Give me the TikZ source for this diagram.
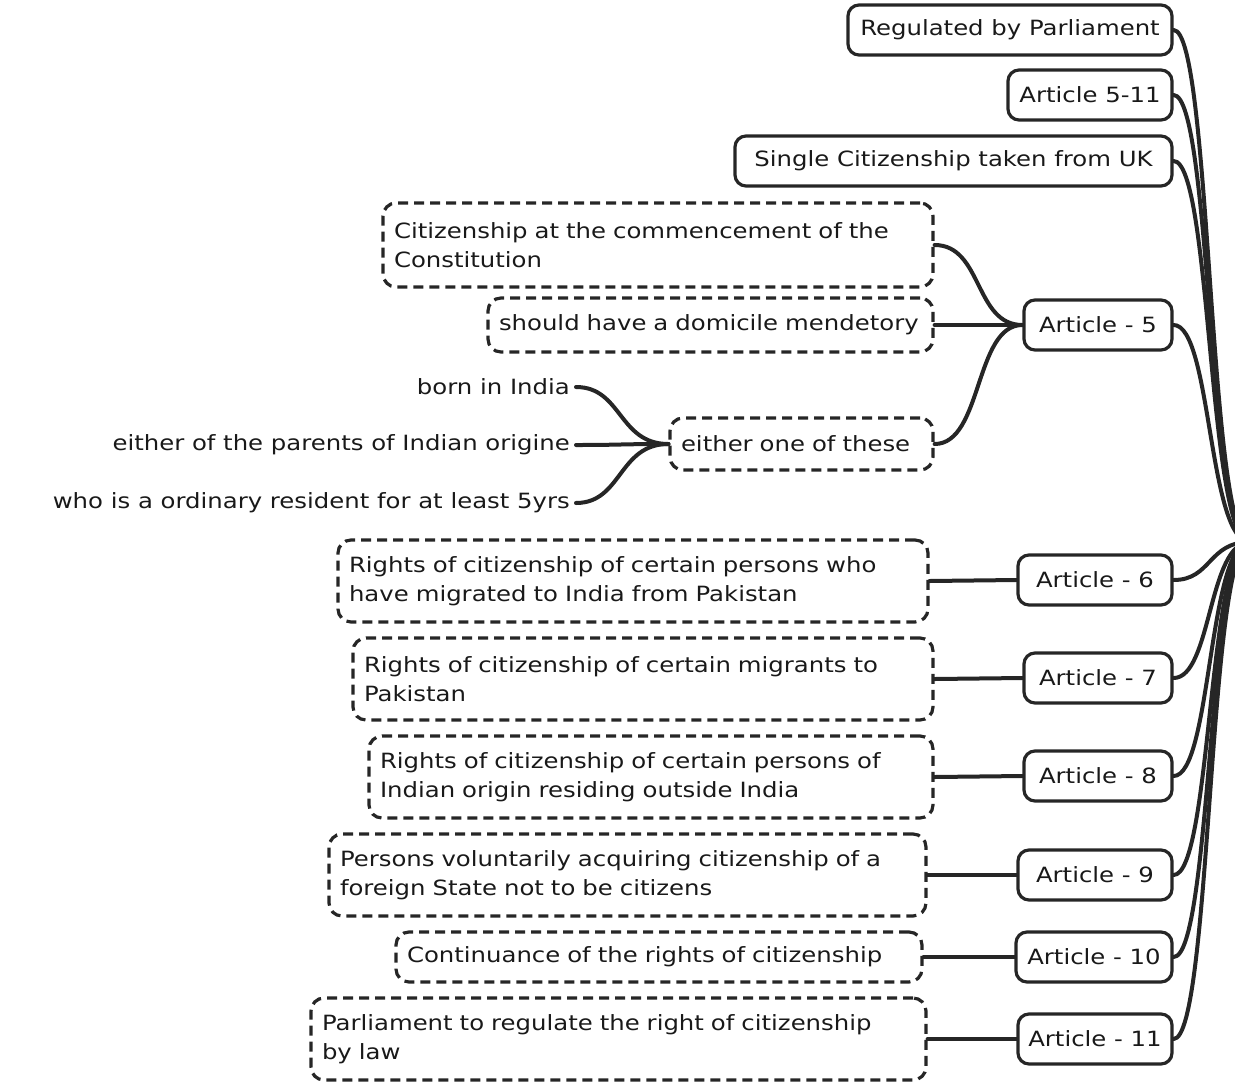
\documentclass[tikz,border=0pt]{standalone}
\usepackage{fontspec}
\setmainfont[FakeStretch=1.16]{DejaVu Sans}
\begin{document}
\begin{tikzpicture}[x=1pt,y=-1pt,
  ink/.style={draw=black!85, line width=3.2pt},
  solidbox/.style={ink, rounded corners=11pt, minimum height=50pt, inner sep=0pt,
    font=\fontsize{21}{28}\selectfont, text=black!90},
  dashbox/.style={ink, dash pattern=on 10pt off 6pt, rounded corners=13pt, inner xsep=11pt, inner ysep=0pt,
    align=left, font=\fontsize{21}{29}\selectfont, text=black!90},
  plain/.style={font=\fontsize{21}{28}\selectfont, text=black!90, inner sep=0pt},
  link/.style={draw=black!85, line width=4pt, line cap=round},
]
\useasboundingbox (0,0) rectangle (1235,1085);

% hub of the whole map, just beyond the right margin
\coordinate (root) at (1250,542);

% first-level topics
\node[solidbox, minimum width=324pt] (reg) at (1010,30) {Regulated by Parliament};
\node[solidbox, minimum width=164pt] (a511) at (1090,95) {Article 5-11};
\node[solidbox, minimum width=437pt] (single) at (953.5,161) {Single Citizenship taken from UK};
\node[solidbox, minimum width=148pt] (a5) at (1098,325) {Article - 5};
\node[solidbox, minimum width=154pt] (a6) at (1095,580) {Article - 6};
\node[solidbox, minimum width=148pt] (a7) at (1098,678) {Article - 7};
\node[solidbox, minimum width=148pt] (a8) at (1098,776) {Article - 8};
\node[solidbox, minimum width=154pt] (a9) at (1095,875) {Article - 9};
\node[solidbox, minimum width=156pt] (a10) at (1094,957) {Article - 10};
\node[solidbox, minimum width=154pt] (a11) at (1095,1039) {Article - 11};

% details of Article 5
\node[dashbox, text width=528pt, minimum height=84pt] (c1) at (658,245)
  {Citizenship at the commencement of the\\Constitution};
\node[dashbox, text width=423pt, minimum height=54pt] (c2) at (710.5,325)
  {should have a domicile mendetory};
\node[dashbox, text width=241pt, minimum height=52pt] (c3) at (801.5,444)
  {either one of these};

\node[plain, anchor=east] (p1) at (570,387) {born in India};
\node[plain, anchor=east] (p2) at (570,445) {either of the parents of Indian origine};
\node[plain, anchor=east] (p3) at (570,503) {who is a ordinary resident for at least 5yrs};

% details of Articles 6 to 11
\node[dashbox, text width=568pt, minimum height=82pt] (d6) at (633,581)
  {Rights of citizenship of certain persons who\\have migrated to India from Pakistan};
\node[dashbox, text width=558pt, minimum height=82pt] (d7) at (643,679)
  {Rights of citizenship of certain migrants to\\Pakistan};
\node[dashbox, text width=542pt, minimum height=82pt] (d8) at (651,777)
  {Rights of citizenship of certain persons of\\Indian origin residing outside India};
\node[dashbox, text width=575pt, minimum height=82pt] (d9) at (627.5,875)
  {Persons voluntarily acquiring citizenship of a\\foreign State not to be citizens};
\node[dashbox, text width=504pt, minimum height=50pt] (d10) at (659,957)
  {Continuance of the rights of citizenship};
\node[dashbox, text width=593pt, minimum height=82pt] (d11) at (618.5,1039)
  {Parliament to regulate the right of citizenship\\by law};

% branches into the hub
\foreach \n in {reg,a511,single,a5,a6,a7,a8,a9,a10,a11}
  \draw[link] (\n.east) .. controls ([xshift=38pt]\n.east) and ([xshift=-42pt]root) .. (root);

% branches of Article 5
\foreach \n in {c1,c2,c3}
  \draw[link] (\n.east) .. controls ([xshift=48pt]\n.east) and ([xshift=-48pt]a5.west) .. (a5.west);
\foreach \n in {p1,p2,p3}
  \draw[link] ([xshift=6pt]\n.east) .. controls ([xshift=52pt]\n.east) and ([xshift=-50pt]c3.west) .. (c3.west);

% branches of Articles 6 to 11
\foreach \d/\a in {d6/a6,d7/a7,d8/a8,d9/a9,d10/a10,d11/a11}
  \draw[link] (\d.east) -- (\a.west);
\end{tikzpicture}
\end{document}
